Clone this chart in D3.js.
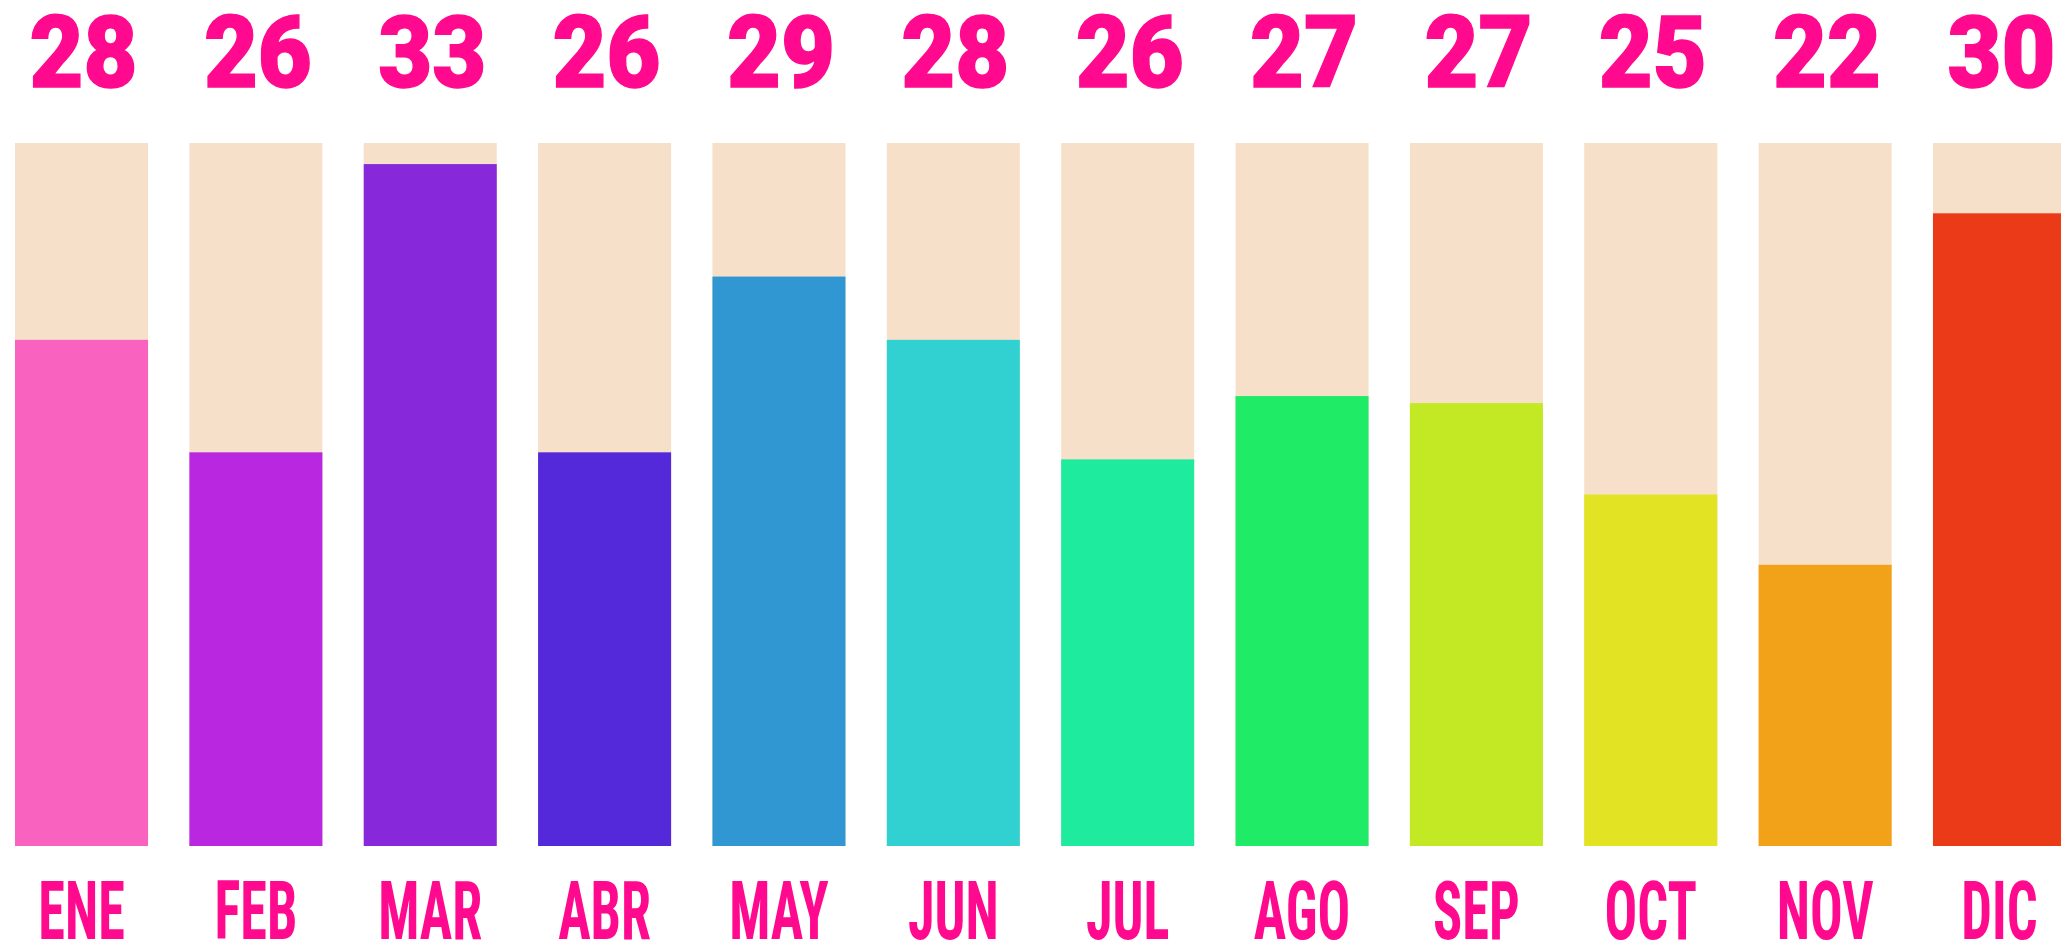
<!DOCTYPE html>
<html>
<head>
<meta charset="utf-8">
<script src="https://cdn.jsdelivr.net/npm/d3@7"></script>
<style>
  html, body { margin: 0; padding: 0; background: #ffffff; overflow: hidden; }
  svg { display: block; }
</style>
</head>
<body>
<svg id="chart" width="2061" height="945"></svg>
<script>
// ---- data ----
const months = ["ENE", "FEB", "MAR", "ABR", "MAY", "JUN", "JUL", "AGO", "SEP", "OCT", "NOV", "DIC"];
const counts = [28, 26, 33, 26, 29, 28, 26, 27, 27, 25, 22, 30];
// fill level of each bar (percent of the full bar)
const fillPct = [72, 56, 97, 56, 81, 72, 55, 64, 63, 50, 40, 90];
const barColors = ["#f962be", "#b927e0", "#8828db", "#5429d9", "#3097d3", "#31d1d1",
                   "#1eeb9d", "#1feb67", "#c3e924", "#e2e322", "#f2a218", "#ea3a18"];
const trackColor = "#f7e0ca";
const textColor = "#ff0a8f";

// ---- layout ----
const svg = d3.select("#chart");

const x = d3.scaleBand()
  .domain(months)
  .range([15, 2066])
  .paddingInner(0.237)
  .paddingOuter(0);

const y = d3.scaleLinear()
  .domain([0, 100])
  .range([846, 143]);

const rows = months.map((m, i) => ({ m, c: counts[i], p: fillPct[i], col: barColors[i] }));

// background tracks
svg.append("g").selectAll("rect")
  .data(rows).join("rect")
  .attr("x", d => x(d.m))
  .attr("y", y(100))
  .attr("width", x.bandwidth())
  .attr("height", y(0) - y(100))
  .attr("fill", trackColor);

// value bars
svg.append("g").selectAll("rect")
  .data(rows).join("rect")
  .attr("x", d => x(d.m))
  .attr("y", d => y(d.p))
  .attr("width", x.bandwidth())
  .attr("height", d => y(0) - y(d.p))
  .attr("fill", d => d.col);

// numbers on top
svg.append("g").selectAll("text")
  .data(rows).join("text")
  .attr("x", d => x(d.m) + x.bandwidth() / 2 + 2)
  .attr("y", 87)
  .attr("text-anchor", "middle")
  .attr("font-family", "Roboto, sans-serif")
  .attr("font-weight", 900)
  .attr("font-size", 101)
  .attr("textLength", 108)
  .attr("lengthAdjust", "spacingAndGlyphs")
  .attr("fill", textColor)
  .attr("stroke", textColor)
  .attr("stroke-width", 1.5)
  .text(d => d.c);

// month labels (tall condensed lettering)
svg.append("g").selectAll("text")
  .data(rows).join("text")
  .attr("transform", d => `translate(${x(d.m) + x.bandwidth() / 2},939) scale(0.67,1)`)
  .attr("text-anchor", "middle")
  .attr("font-family", "'Roboto Condensed', Roboto, sans-serif")
  .attr("font-weight", 700)
  .attr("font-size", 81)
  .attr("fill", textColor)
  .text(d => d.m);
</script>
</body>
</html>
